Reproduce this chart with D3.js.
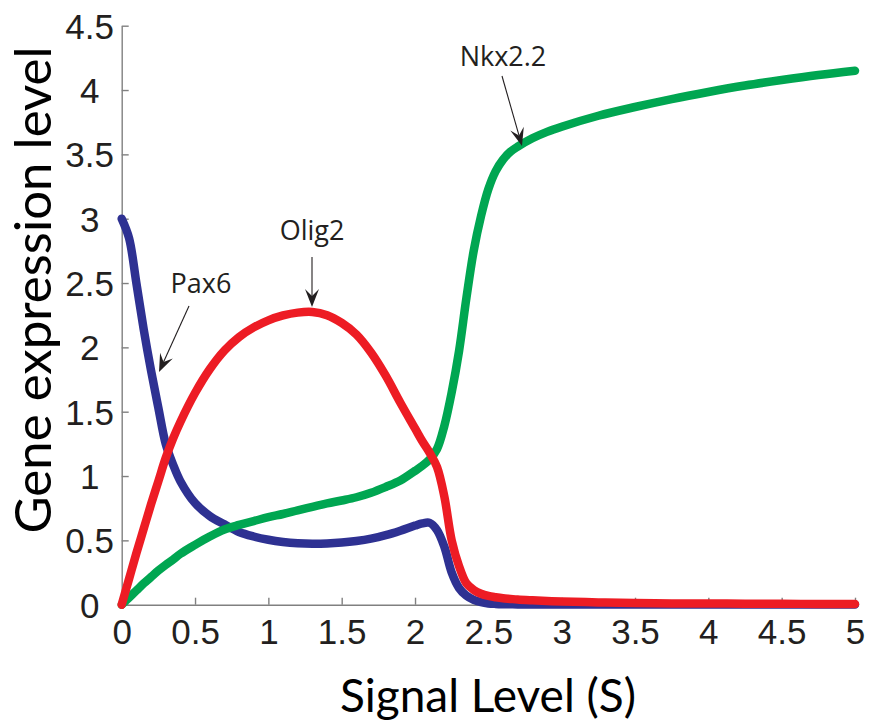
<!DOCTYPE html>
<html>
<head>
<meta charset="utf-8">
<script src="https://cdn.jsdelivr.net/npm/d3@7"></script>
<style>
  html, body { margin: 0; padding: 0; background: #fff; }
  svg { display: block; }
</style>
</head>
<body>
<svg id="chart" width="872" height="728"></svg>
<script>
// Signal level S (x) and steady-state expression of each gene (y)
const signalLevels = [0, 0.05, 0.1, 0.15, 0.2, 0.25, 0.3, 0.35, 0.4, 0.5, 0.6, 0.7, 0.8, 0.9, 1.0, 1.1, 1.2, 1.3, 1.4, 1.5, 1.6, 1.7, 1.8, 1.9, 2.0, 2.05, 2.1, 2.15, 2.2, 2.25, 2.3, 2.35, 2.4, 2.45, 2.5, 2.55, 2.6, 2.65, 2.7, 2.8, 2.9, 3.0, 3.25, 3.5, 3.75, 4.0, 4.25, 4.5, 4.75, 5.0];
const pax6 = [3.00, 2.85, 2.50, 2.14, 1.82, 1.53, 1.25, 1.09, 0.96, 0.79, 0.69, 0.625, 0.565, 0.53, 0.505, 0.488, 0.478, 0.474, 0.476, 0.483, 0.495, 0.513, 0.54, 0.575, 0.615, 0.632, 0.636, 0.58, 0.45, 0.25, 0.13, 0.07, 0.038, 0.02, 0.01, 0.006, 0.004, 0.003, 0.002, 0.001, 0.001, 0.001, 0.001, 0.001, 0.001, 0.001, 0.001, 0.001, 0.001, 0.001];
const olig2 = [0, 0.2, 0.4, 0.59, 0.78, 0.96, 1.14, 1.29, 1.42, 1.645, 1.83, 1.975, 2.08, 2.155, 2.21, 2.248, 2.27, 2.275, 2.25, 2.19, 2.10, 1.96, 1.78, 1.57, 1.37, 1.27, 1.18, 1.07, 0.84, 0.5, 0.3, 0.166, 0.115, 0.085, 0.068, 0.058, 0.05, 0.045, 0.04, 0.034, 0.029, 0.025, 0.018, 0.013, 0.01, 0.009, 0.008, 0.007, 0.006, 0.006];
const nkx22 = [0, 0.055, 0.11, 0.165, 0.215, 0.265, 0.31, 0.35, 0.395, 0.465, 0.53, 0.585, 0.62, 0.65, 0.68, 0.705, 0.733, 0.76, 0.787, 0.81, 0.835, 0.87, 0.915, 0.965, 1.04, 1.08, 1.13, 1.21, 1.39, 1.65, 1.97, 2.38, 2.75, 3.02, 3.23, 3.37, 3.46, 3.52, 3.56, 3.625, 3.675, 3.715, 3.80, 3.868, 3.93, 3.985, 4.035, 4.078, 4.117, 4.15];

const xTicks = [0, 0.5, 1, 1.5, 2, 2.5, 3, 3.5, 4, 4.5, 5];
const yTicks = [0, 0.5, 1, 1.5, 2, 2.5, 3, 3.5, 4, 4.5];

// Drawing order: Pax6 underneath, Olig2 on top
const geneColors = ["#2e3192", "#00a651", "#ed1c24"];
const geneSeries = [pax6, nkx22, olig2];

const svg = d3.select("#chart");

const x = d3.scaleLinear().domain([0, 5]).range([121.7, 855]);
const y = d3.scaleLinear().domain([0, 4.5]).range([604.7, 25.7]);

const tickFont = "'Liberation Sans', Arial, sans-serif";
const inkColor = "#231f20";
const axisColor = "#808080";

// Axes with inward ticks
const xAxis = svg.append("g")
  .attr("transform", `translate(0,${y(0)})`)
  .call(d3.axisBottom(x).tickValues(xTicks).tickSizeInner(-7).tickSizeOuter(0).tickFormat(d => String(d)));
const yAxis = svg.append("g")
  .attr("transform", `translate(${x(0)},0)`)
  .call(d3.axisLeft(y).tickValues(yTicks).tickSizeInner(-7).tickSizeOuter(0).tickFormat(d => String(d)));

[xAxis, yAxis].forEach(g => {
  g.select(".domain").attr("stroke", axisColor).attr("stroke-width", 1.4);
  g.selectAll(".tick line").attr("stroke", axisColor).attr("stroke-width", 1.4);
  g.selectAll(".tick text")
    .attr("fill", inkColor)
    .style("font-family", tickFont)
    .style("font-size", "35px");
});
xAxis.selectAll(".tick text").attr("dy", null).attr("y", 39);
yAxis.selectAll(".tick text")
  .attr("text-anchor", "middle")
  .attr("x", -32)
  .attr("dy", "0.36em");

// Axis titles
const titleFont = "Lato, 'Open Sans', sans-serif";
svg.append("text")
  .attr("x", 488).attr("y", 712)
  .attr("text-anchor", "middle")
  .style("font-family", titleFont)
  .style("font-size", "46px")
  .attr("fill", "#000")
  .text("Signal Level (S)");
svg.append("text")
  .attr("transform", "translate(51,290) rotate(-90)")
  .attr("text-anchor", "middle")
  .style("font-family", titleFont)
  .style("font-size", "51px")
  .attr("fill", "#000")
  .text("Gene expression level");

// Expression curves
const line = d3.line()
  .x(d => x(d[0]))
  .y(d => y(d[1]))
  .curve(d3.curveCatmullRom.alpha(0.5));

const curves = svg.append("g");
geneSeries.forEach((series, i) => {
  const pts = signalLevels.map((s, k) => [s, series[k]]);
  curves.append("path")
    .datum(pts)
    .attr("d", line)
    .attr("fill", "none")
    .attr("stroke", geneColors[i])
    .attr("stroke-width", 8.5)
    .attr("stroke-linecap", "round")
    .attr("stroke-linejoin", "round");
});

// Callout labels with arrows (pixel anchors of label and arrow ends)
const labelFont = "'Open Sans', 'Noto Sans', sans-serif";
const callouts = [
  { text: "Pax6", tx: 201, ty: 293, from: [189, 306], to: [159, 372] },
  { text: "Olig2", tx: 312, ty: 240, from: [312, 257], to: [312, 307] },
  { text: "Nkx2.2", tx: 503, ty: 66, from: [502, 76], to: [522, 146] }
];

const notes = svg.append("g");
callouts.forEach(c => {
  notes.append("text")
    .attr("x", c.tx).attr("y", c.ty)
    .attr("text-anchor", "middle")
    .style("font-family", labelFont)
    .style("font-size", "27px")
    .attr("fill", inkColor)
    .text(c.text);

  const [x0, y0] = c.from, [x1, y1] = c.to;
  const len = Math.hypot(x1 - x0, y1 - y0);
  const ux = (x1 - x0) / len, uy = (y1 - y0) / len;
  const px = -uy, py = ux;
  const headLen = 18, notch = 11, half = 7;
  notes.append("line")
    .attr("x1", x0).attr("y1", y0)
    .attr("x2", x1 - ux * notch).attr("y2", y1 - uy * notch)
    .attr("stroke", inkColor).attr("stroke-width", 1.1);
  const bx = x1 - ux * headLen, by = y1 - uy * headLen;
  const nx = x1 - ux * notch, ny = y1 - uy * notch;
  notes.append("path")
    .attr("d", `M${x1},${y1} L${bx + px * half},${by + py * half} L${nx},${ny} L${bx - px * half},${by - py * half} Z`)
    .attr("fill", inkColor);
});
</script>
</body>
</html>
